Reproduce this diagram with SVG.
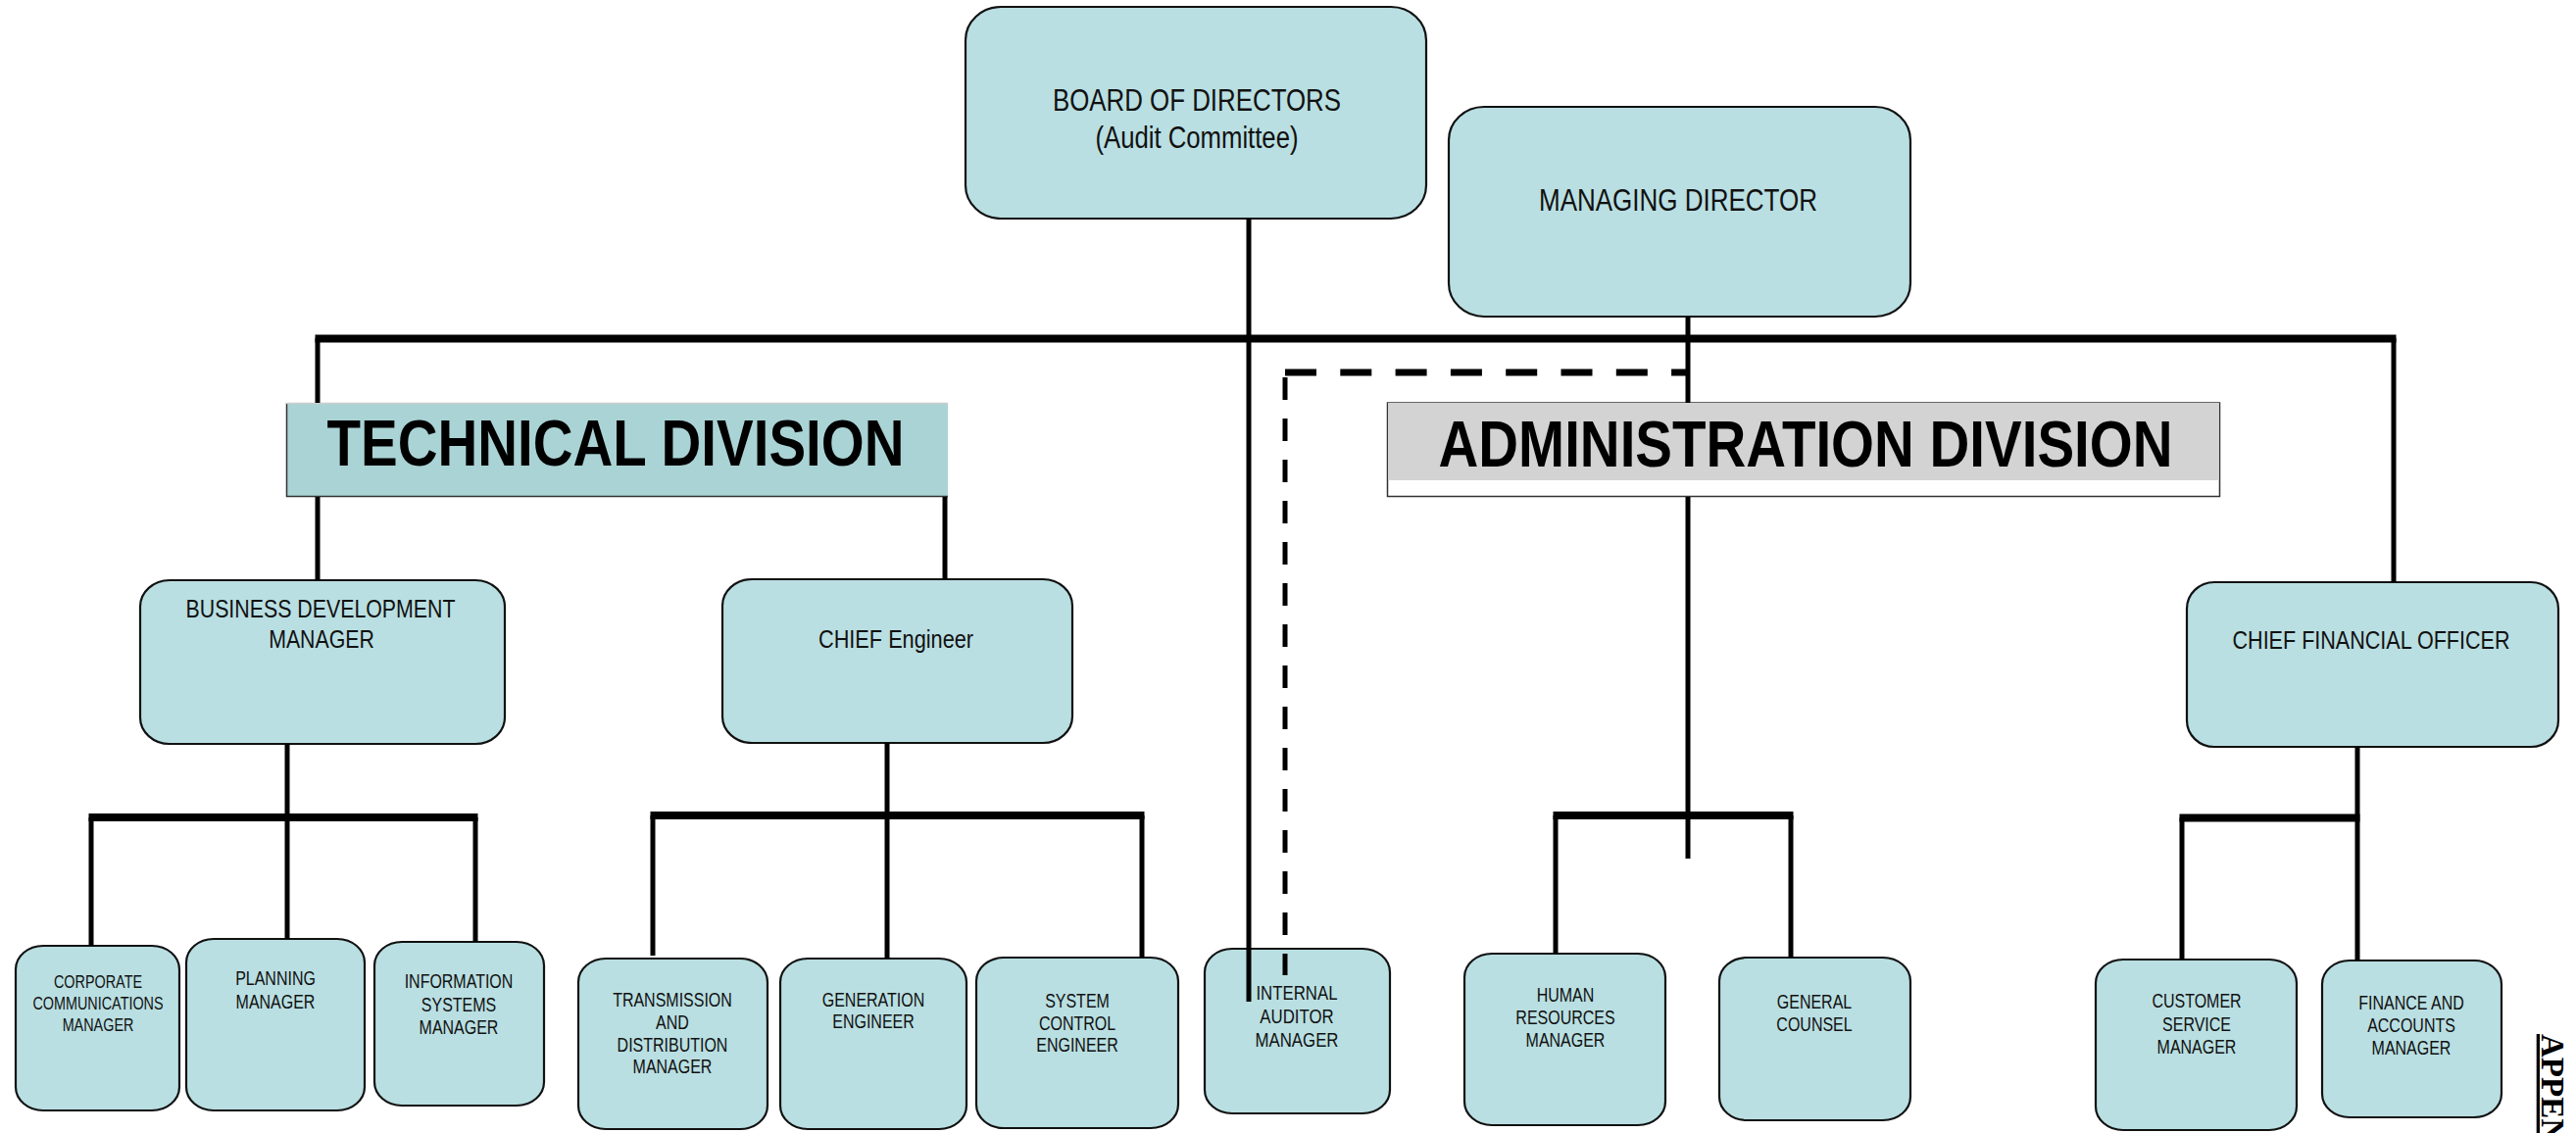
<svg xmlns="http://www.w3.org/2000/svg" width="2628" height="1156" viewBox="0 0 2628 1156">
  <style>
    .box { fill: #b9dfe2; stroke: #111; stroke-width: 2.2; }
    .t { font-family: 'Liberation Sans Narrow', 'Arial Narrow', 'Liberation Sans', Arial, sans-serif; fill: #111; text-anchor: middle; }
    .top { font-size: 31px; }
    .mid { font-size: 26px; }
    .low { font-size: 19.5px; }
    .sm { font-size: 18px; }
    .ia { font-size: 20.5px; }
    .band { font-family: 'Liberation Sans Narrow', 'Arial Narrow', 'Liberation Sans', Arial, sans-serif; font-weight: bold; font-size: 67px; fill: #000; text-anchor: middle; }
    .ln { stroke: #000; stroke-width: 5; fill: none; }
    .bus { stroke: #000; stroke-width: 8; fill: none; }
    .dash-h { stroke: #000; stroke-width: 7; stroke-dasharray: 32 24.3; fill: none; }
    .dash-v { stroke: #000; stroke-width: 5; stroke-dasharray: 23 19; fill: none; }
  </style>

  <!-- top level -->
  <g id="board">
    <rect class="box" x="985" y="7" width="470" height="216" rx="36" ry="34"/>
    <text class="t top" x="1221" y="113" textLength="294" lengthAdjust="spacingAndGlyphs">BOARD OF DIRECTORS</text>
    <text class="t top" x="1221" y="151" textLength="207" lengthAdjust="spacingAndGlyphs">(Audit Committee)</text>
  </g>
  <g id="managing-director">
    <rect class="box" x="1478" y="109" width="471" height="214" rx="36" ry="34"/>
    <text class="t top" x="1712" y="215" textLength="284" lengthAdjust="spacingAndGlyphs">MANAGING DIRECTOR</text>
  </g>

  <!-- division bands -->
  <g id="technical-division">
    <rect x="292" y="411" width="675" height="96" fill="#aad3d5"/>
    <path d="M292.5 411 V506.5 H967" stroke="#333" stroke-width="1.5" fill="none"/>
    <path d="M292 411.5 H967" stroke="#ccc" stroke-width="1.5" fill="none"/>
    <text class="band" x="628" y="475" textLength="589" lengthAdjust="spacingAndGlyphs">TECHNICAL DIVISION</text>
  </g>
  <g id="administration-division">
    <rect x="1415.5" y="411" width="849" height="95.5" fill="#fff" stroke="#333" stroke-width="1.5"/>
    <rect x="1416" y="411" width="848" height="79" fill="#d3d3d3"/>
    <text class="band" x="1842" y="476" textLength="749" lengthAdjust="spacingAndGlyphs">ADMINISTRATION DIVISION</text>
  </g>

  <!-- second level -->
  <g id="business-development-manager">
    <rect class="box" x="143" y="592" width="372" height="167" rx="30" ry="27"/>
    <text class="t mid" x="327" y="630" textLength="275" lengthAdjust="spacingAndGlyphs">BUSINESS DEVELOPMENT</text>
    <text class="t mid" transform="translate(328 661) scale(0.82 1)">MANAGER</text>
  </g>
  <g id="chief-engineer">
    <rect class="box" x="737" y="591" width="357" height="167" rx="30" ry="27"/>
    <text class="t mid" x="914" y="661" textLength="158" lengthAdjust="spacingAndGlyphs">CHIEF Engineer</text>
  </g>
  <g id="chief-financial-officer">
    <rect class="box" x="2231" y="594" width="379" height="168" rx="28" ry="27"/>
    <text class="t mid" x="2419" y="662" textLength="283" lengthAdjust="spacingAndGlyphs">CHIEF FINANCIAL OFFICER</text>
  </g>

  <!-- third level (condensed lettering) -->
  <g id="corporate-communications-manager">
    <rect class="box" x="16" y="965" width="167" height="168" rx="28" ry="24"/>
    <text class="t sm" transform="translate(100 1008) scale(0.8 1)">CORPORATE</text>
    <text class="t sm" transform="translate(100 1030) scale(0.8 1)">COMMUNICATIONS</text>
    <text class="t sm" transform="translate(100 1052) scale(0.8 1)">MANAGER</text>
  </g>
  <g id="planning-manager">
    <rect class="box" x="190" y="958" width="182" height="175" rx="28" ry="24"/>
    <text class="t low" transform="translate(281 1005) scale(0.82 1)">PLANNING</text>
    <text class="t low" transform="translate(281 1029) scale(0.82 1)">MANAGER</text>
  </g>
  <g id="information-systems-manager">
    <rect class="box" x="382" y="961" width="173" height="167" rx="28" ry="24"/>
    <text class="t low" transform="translate(468 1008) scale(0.82 1)">INFORMATION</text>
    <text class="t low" transform="translate(468 1032) scale(0.82 1)">SYSTEMS</text>
    <text class="t low" transform="translate(468 1055) scale(0.82 1)">MANAGER</text>
  </g>
  <g id="transmission-distribution-manager">
    <rect class="box" x="590" y="978" width="193" height="174" rx="28" ry="24"/>
    <text class="t low" transform="translate(686 1027) scale(0.82 1)">TRANSMISSION</text>
    <text class="t low" transform="translate(686 1050) scale(0.82 1)">AND</text>
    <text class="t low" transform="translate(686 1073) scale(0.82 1)">DISTRIBUTION</text>
    <text class="t low" transform="translate(686 1095) scale(0.82 1)">MANAGER</text>
  </g>
  <g id="generation-engineer">
    <rect class="box" x="796" y="978" width="190" height="174" rx="28" ry="24"/>
    <text class="t low" transform="translate(891 1027) scale(0.82 1)">GENERATION</text>
    <text class="t low" transform="translate(891 1049) scale(0.82 1)">ENGINEER</text>
  </g>
  <g id="system-control-engineer">
    <rect class="box" x="996" y="977" width="206" height="174" rx="28" ry="24"/>
    <text class="t low" transform="translate(1099 1028) scale(0.82 1)">SYSTEM</text>
    <text class="t low" transform="translate(1099 1051) scale(0.82 1)">CONTROL</text>
    <text class="t low" transform="translate(1099 1073) scale(0.82 1)">ENGINEER</text>
  </g>
  <g id="internal-auditor-manager">
    <rect class="box" x="1229" y="968" width="189" height="168" rx="28" ry="24"/>
    <text class="t ia" transform="translate(1323 1020) scale(0.82 1)">INTERNAL</text>
    <text class="t ia" transform="translate(1323 1044) scale(0.82 1)">AUDITOR</text>
    <text class="t ia" transform="translate(1323 1068) scale(0.82 1)">MANAGER</text>
  </g>
  <g id="human-resources-manager">
    <rect class="box" x="1494" y="973" width="205" height="175" rx="28" ry="24"/>
    <text class="t low" transform="translate(1597 1022) scale(0.82 1)">HUMAN</text>
    <text class="t low" transform="translate(1597 1045) scale(0.82 1)">RESOURCES</text>
    <text class="t low" transform="translate(1597 1068) scale(0.82 1)">MANAGER</text>
  </g>
  <g id="general-counsel">
    <rect class="box" x="1754" y="977" width="195" height="166" rx="28" ry="24"/>
    <text class="t low" transform="translate(1851 1029) scale(0.82 1)">GENERAL</text>
    <text class="t low" transform="translate(1851 1052) scale(0.82 1)">COUNSEL</text>
  </g>
  <g id="customer-service-manager">
    <rect class="box" x="2138" y="979" width="205" height="174" rx="28" ry="24"/>
    <text class="t low" transform="translate(2241 1028) scale(0.82 1)">CUSTOMER</text>
    <text class="t low" transform="translate(2241 1052) scale(0.82 1)">SERVICE</text>
    <text class="t low" transform="translate(2241 1075) scale(0.82 1)">MANAGER</text>
  </g>
  <g id="finance-accounts-manager">
    <rect class="box" x="2369" y="980" width="183" height="160" rx="28" ry="24"/>
    <text class="t low" transform="translate(2460 1030) scale(0.82 1)">FINANCE AND</text>
    <text class="t low" transform="translate(2460 1053) scale(0.82 1)">ACCOUNTS</text>
    <text class="t low" transform="translate(2460 1076) scale(0.82 1)">MANAGER</text>
  </g>

  <!-- reporting lines -->
  <g id="connectors">
    <!-- main bus and its drops -->
    <line class="bus" x1="321.5" y1="345.5" x2="2444.5" y2="345.5"/>
    <line class="ln" x1="324" y1="345" x2="324" y2="411"/>
    <line class="ln" x1="324" y1="507" x2="324" y2="592"/>
    <line class="ln" x1="964" y1="507" x2="964" y2="591"/>
    <line class="ln" x1="2442" y1="345" x2="2442" y2="594"/>
    <!-- managing director down through the administration band -->
    <line class="ln" x1="1722" y1="323" x2="1722" y2="411"/>
    <line class="ln" x1="1722" y1="507" x2="1722" y2="876"/>
    <!-- board to internal auditor -->
    <line class="ln" x1="1274" y1="223" x2="1274" y2="1022"/>
    <!-- dotted reporting line to internal auditor -->
    <line class="dash-h" x1="1311" y1="380" x2="1724" y2="380"/>
    <line class="dash-v" x1="1311" y1="385" x2="1311" y2="995"/>

    <!-- business development branch -->
    <line class="ln" x1="293" y1="759" x2="293" y2="834"/>
    <line class="bus" x1="90.5" y1="834" x2="487.5" y2="834"/>
    <line class="ln" x1="93" y1="834" x2="93" y2="965"/>
    <line class="ln" x1="293" y1="834" x2="293" y2="958"/>
    <line class="ln" x1="485" y1="834" x2="485" y2="961"/>

    <!-- chief engineer branch -->
    <line class="ln" x1="905" y1="758" x2="905" y2="832"/>
    <line class="bus" x1="663.5" y1="832" x2="1167.5" y2="832"/>
    <line class="ln" x1="666" y1="832" x2="666" y2="975"/>
    <line class="ln" x1="905" y1="832" x2="905" y2="978"/>
    <line class="ln" x1="1165" y1="832" x2="1165" y2="977"/>

    <!-- administration branch -->
    <line class="bus" x1="1584.5" y1="832" x2="1829.5" y2="832"/>
    <line class="ln" x1="1587" y1="832" x2="1587" y2="973"/>
    <line class="ln" x1="1827" y1="832" x2="1827" y2="977"/>

    <!-- finance branch -->
    <line class="ln" x1="2405" y1="762" x2="2405" y2="980"/>
    <line class="bus" x1="2223.5" y1="834.5" x2="2407.5" y2="834.5"/>
    <line class="ln" x1="2226" y1="834" x2="2226" y2="979"/>
  </g>

  <!-- page caption along the right edge -->
  <text x="0" y="0" transform="translate(2593,1055) rotate(90)" font-family="'Liberation Serif', 'Times New Roman', serif" font-weight="bold" font-size="33" text-decoration="underline" fill="#000">APPEN</text>
</svg>
